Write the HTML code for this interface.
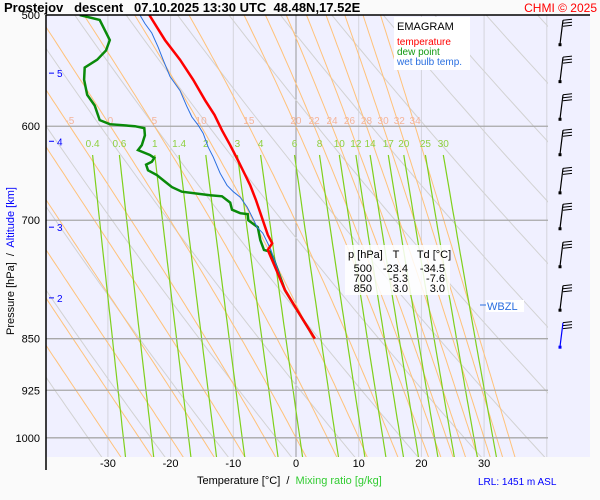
<!DOCTYPE html>
<html><head><meta charset="utf-8"><style>
html,body{margin:0;padding:0;background:#fafafa;}
svg{display:block;font-family:"Liberation Sans",sans-serif;}
text{white-space:pre;}
</style></head><body>
<svg id="chart" width="600" height="500" viewBox="0 0 600 500" xmlns="http://www.w3.org/2000/svg">
<defs><clipPath id="plotclip"><rect x="46" y="15" width="502" height="442"/></clipPath></defs>
<rect x="0" y="0" width="600" height="500" fill="#fafafa"/>
<rect x="46" y="15" width="544" height="442" fill="#f0f0ff"/>
<g id="grid" clip-path="url(#plotclip)"></g>
<g id="labels"></g>
<g font-size="11" fill="#000">
<rect x="345" y="245" width="105" height="50" fill="#fff" opacity="0.85"/>
<text x="348" y="258">p [hPa]</text><text x="396" y="258" text-anchor="middle">T</text><text x="434" y="258" text-anchor="middle">Td [°C]</text>
<text x="372" y="272" text-anchor="end">500</text><text x="408" y="272" text-anchor="end">-23.4</text><text x="445" y="272" text-anchor="end">-34.5</text>
<text x="372" y="282" text-anchor="end">700</text><text x="408" y="282" text-anchor="end">-5.3</text><text x="445" y="282" text-anchor="end">-7.6</text>
<text x="372" y="292" text-anchor="end">850</text><text x="408" y="292" text-anchor="end">3.0</text><text x="445" y="292" text-anchor="end">3.0</text>
</g>
<g id="series" clip-path="url(#plotclip)"></g>
<line x1="46" y1="15" x2="590" y2="15" stroke="#000" stroke-width="1.5"/>
<line x1="46" y1="15" x2="46" y2="470" stroke="#000" stroke-width="1.5"/>
<text x="4" y="12" font-size="13" font-weight="bold" fill="#000">Prostejov   descent   07.10.2025 13:30 UTC  48.48N,17.52E</text>
<text x="597" y="12" font-size="12" fill="#f00" text-anchor="end">CHMI © 2025</text>
<g>
<rect x="394" y="17" width="76" height="53" fill="#fff"/>
<text x="397" y="30" font-size="11" fill="#000">EMAGRAM</text>
<text x="397" y="45" font-size="10" fill="#f00">temperature</text>
<text x="397" y="55" font-size="10" fill="#129912">dew point</text>
<text x="397" y="65" font-size="10" fill="#2a6fe0">wet bulb temp.</text>
</g>
<g>
<rect x="486" y="300" width="38" height="12" fill="#fff"/>
<line x1="480" y1="305" x2="486" y2="305" stroke="#2a6fe0"/>
<text x="487" y="310" font-size="11" fill="#2a6fe0">WBZL</text>
</g>
<g id="winds"></g>
<text transform="translate(14,335) rotate(-90)" font-size="11"><tspan fill="#000">Pressure [hPa]  /  </tspan><tspan fill="#00f">Altitude [km]</tspan></text>
<text x="197" y="484" font-size="11" fill="#000">Temperature [°C]  /  <tspan fill="#3c3">Mixing ratio [g/kg]</tspan></text>
<text x="478" y="485" font-size="10" fill="#00f">LRL: 1451 m ASL</text>
</svg>
<script>
// ---- data ----
var pressureTicks=[500,600,700,850,925,1000];
var tempTicks=[-30,-20,-10,0,10,20,30];
var altKm=[5,4,3,2];
var altP=[550,615,708,795];
var thetaK=[240,250,260,270,280,290,300,310,320,330,340,350,360,370,380,390,400];
var thetaW=[-30,-25,-20,-15,-10,-5,0,5,10,15,20,22,24,26,28,30,32,34];
var thetaWLabels=["-5","0","5","10","15","20","22","24","26","28","30","32","34"];
var mixRatios=[0.4,0.6,1,1.4,2,3,4,6,8,10,12,14,17,20,25,30];
var tempP=[500,521,538,556,575,589,604,619,634,650,661,677,700,717,727,735,785,817,850];
var tempT=[-23.4,-20.9,-18.5,-16.4,-14.5,-13.0,-11.8,-10.5,-9.3,-8.1,-7.3,-6.4,-5.3,-4.5,-3.8,-4.5,-1.75,0.6,3.0];
var dewP=[500,504,521,530,538,545,556,570,580,589,594,598,600,602,609,619,624,629,632,636,639,645,650,657,663,668,672,673,680,688,692,693,700,708,723,735,737,745,785,817,850];
var dewT=[-34.5,-31.3,-29.7,-30.3,-31.7,-33.7,-33.8,-33.3,-32.1,-31.6,-31.3,-29.7,-25.7,-24.2,-24.1,-24.6,-25.2,-23.3,-22.6,-23.0,-23.9,-23.6,-22.2,-20.9,-19.8,-18.2,-13.7,-11.8,-10.5,-10.2,-8.9,-7.7,-7.6,-6.1,-5.7,-5.1,-4.1,-3.6,-1.75,0.6,3.0];
var wbP=[500,507,515,527,538,553,566,581,591,599,607,621,631,648,661,668,674,685,696,708,715,727,735,785,817,850];
var wbT=[-24.9,-24.1,-23.0,-22.0,-21.2,-20.1,-18.5,-17.4,-16.6,-15.6,-14.8,-14.0,-13.2,-12.1,-11.0,-10.0,-8.9,-7.8,-7.0,-6.2,-5.3,-4.5,-4.0,-1.75,0.6,3.0];
var windP=[516,550,585,620,660,700,745,800,850];
// ---- scales ----
function X(t){return 296+t*6.27;}
function Y(p){return 15+610*Math.log(p/500);}
var NS="http://www.w3.org/2000/svg";
function mk(parent,tag,attrs){var e=document.createElementNS(NS,tag);for(var k in attrs)e.setAttribute(k,attrs[k]);parent.appendChild(e);return e;}
var grid=document.getElementById('grid'),series=document.getElementById('series'),labels=document.getElementById('labels'),winds=document.getElementById('winds');
function ptsStr(ps,ts){var s=[];for(var i=0;i<ps.length;i++)s.push(X(ts[i]).toFixed(1)+','+Y(ps[i]).toFixed(1));return s.join(' ');}
for(var t=-60;t<=40;t+=10){var l=mk(grid,'line',{x1:X(t),x2:X(t),y1:15,y2:457,stroke:t===0?'#999':'#d4d4dc','stroke-width':1});

}
// dry adiabats (gray)
thetaK.forEach(function(th){var ps=[],ts=[];for(var p=480;p<=1060;p+=10){ps.push(p);ts.push(th*Math.pow(p/1000,0.286)-273.15);}
var e=mk(grid,'polyline',{points:ptsStr(ps,ts),fill:'none',stroke:'#d2d2d2','stroke-width':1});

});
// pseudo-adiabats (orange)
function es(T){return 6.112*Math.exp(17.67*T/(T+243.5));}
function dTdp(T,p){var Tc=T-273.15;var rs=0.622*es(Tc)/(p-es(Tc));return (287*T+2.5e6*rs)/(1004+2.5e6*2.5e6*rs*0.622/(287*T*T))/p;}
var t600={};
thetaW.forEach(function(tw){var up=[],dn=[];var T=tw+273.15,p=1000;
while(p>=480){up.push([p,T-273.15]);if(p===600)t600[tw]=T-273.15;T-=dTdp(T,p)*5;p-=5;}
T=tw+273.15;p=1000;while(p<=1060){dn.push([p,T-273.15]);T+=dTdp(T,p)*5;p+=5;}
var all=up.reverse().concat(dn.slice(1));var ps=all.map(function(a){return a[0];}),ts=all.map(function(a){return a[1];});
var e=mk(grid,'polyline',{points:ptsStr(ps,ts),fill:'none',stroke:'#ffc27a','stroke-width':1});

});
thetaWLabels.forEach(function(lab){var tx=mk(labels,'text',{x:X(t600[Number(lab)]),y:124,'font-size':10,fill:'#f4b49a','text-anchor':'middle'});tx.textContent=lab;

});
// mixing ratio
function tdOf(w,p){var e=w*p/(622+w);var a=Math.log(e/6.112);return 243.5*a/(17.67-a);}
mixRatios.forEach(function(w){var ps=[],ts=[];for(var p=629;p<=1040;p+=10){ps.push(p);ts.push(tdOf(w,p));}
var e=mk(grid,'polyline',{points:ptsStr(ps,ts),fill:'none',stroke:'#7fd01c','stroke-width':1.2});


var tx=mk(labels,'text',{x:X(tdOf(w,629)),y:147,'font-size':10,fill:'#8fd040','text-anchor':'middle'});tx.textContent=String(w);

});
pressureTicks.forEach(function(p){if(p>500){var l=mk(grid,'line',{x1:46,x2:548,y1:Y(p),y2:Y(p),stroke:'#a8a8a8','stroke-width':1.3});

}
var tx=mk(labels,'text',{x:40,y:Y(p)+4,'font-size':11,fill:'#000','text-anchor':'end'});tx.textContent=String(p);

});
tempTicks.forEach(function(t){var tx=mk(labels,'text',{x:X(t),y:467,'font-size':11,fill:'#000','text-anchor':'middle'});tx.textContent=String(t);

});
altKm.forEach(function(k,i){var y=Y(altP[i]);mk(labels,'line',{x1:49,x2:54,y1:y,y2:y,stroke:'#00f'});
var tx=mk(labels,'text',{x:57,y:y+4,'font-size':10,fill:'#00f'});tx.textContent=String(k);

});
var d=mk(series,'polyline',{points:ptsStr(dewP,dewT),fill:'none',stroke:'#0a8a0a','stroke-width':2.5});


var w=mk(series,'polyline',{points:ptsStr(wbP,wbT),fill:'none',stroke:'#2a6fe0','stroke-width':1});


var r=mk(series,'polyline',{points:ptsStr(tempP,tempT),fill:'none',stroke:'#f00','stroke-width':2.5});


windP.forEach(function(p,i){var y=Y(p)-(i===0?-2:0);var last=i===windP.length-1;var c=last?'#00f':'#000';
var g=mk(winds,'g',{});


mk(g,'line',{x1:560,y1:y+8,x2:563,y2:y-16,stroke:c,'stroke-width':1.2});
for(var k=0;k<3;k++){mk(g,'line',{x1:563,y1:y-16+k*3,x2:572,y2:y-17+k*3,stroke:'#000','stroke-width':1});}
mk(g,'rect',{x:558.5,y:y+7,width:3,height:3,fill:c});});
</script>
</body></html>
